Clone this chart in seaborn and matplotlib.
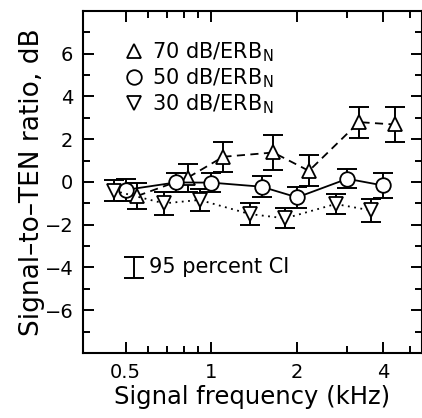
import numpy as np
import pandas as pd
import matplotlib
matplotlib.use('Agg')
import matplotlib.pyplot as plt
import seaborn as sns
from matplotlib.ticker import FixedLocator, NullFormatter, FuncFormatter
from matplotlib.lines import Line2D

# 데이터
freqs = [0.5, 0.75, 1, 1.5, 2, 3, 4]
levels = ['70 dB/ERB$_\\mathregular{N}$', '50 dB/ERB$_\\mathregular{N}$', '30 dB/ERB$_\\mathregular{N}$']
snr_70 = [-0.65, 0.2, 1.18, 1.38, 0.52, 2.8, 2.69]
ci_70 = [0.6, 0.65, 0.7, 0.8, 0.73, 0.72, 0.8]
snr_50 = [-0.37, -0.02, -0.03, -0.22, -0.72, 0.15, -0.16]
ci_50 = [0.5, 0.45, 0.43, 0.5, 0.5, 0.45, 0.6]
snr_30 = [-0.41, -1.0, -0.84, -1.5, -1.7, -1.03, -1.33]
ci_30 = [0.5, 0.55, 0.5, 0.5, 0.47, 0.46, 0.53]

sns.set_style('ticks')
plt.rcParams['font.family'] = ['DejaVu Sans']
plt.rcParams['mathtext.fontset'] = 'dejavusans'
plt.rcParams['text.color'] = 'black'
plt.rcParams['axes.labelcolor'] = 'black'

fig = plt.figure(figsize=(4.22, 4.18), dpi=100)
ax = fig.add_axes([0.1967, 0.1555, 0.8023, 0.8182])

# 시리즈별 표시 설정 (겹치지 않도록 주파수 축에서 살짝 이동)
series = [
    (snr_70, ci_70, 1.10, '^', (4.5, 3)),
    (snr_50, ci_50, 1.0, 'o', ''),
    (snr_30, ci_30, 1 / 1.10, 'v', (1, 2.5)),
]

rows = []
for name, (vals, ci, shift, mk, ds) in zip(levels, series):
    for f, v, c in zip(freqs, vals, ci):
        rows.append({'level': name, 'freq': f * shift, 'snr': v, 'ci': c})
df = pd.DataFrame(rows)

for name, (vals, ci, shift, mk, ds) in zip(levels, series):
    d = df[df['level'] == name]
    ax.errorbar(d['freq'], d['snr'], yerr=d['ci'], fmt='none', ecolor='black',
                elinewidth=1.4, capsize=7, capthick=1.4, zorder=2)

sns.lineplot(data=df, x='freq', y='snr', hue='level', style='level',
             palette=['black'] * 3, dashes=[s[4] for s in series],
             markers=[s[3] for s in series], markersize=10.5,
             markerfacecolor='white', markeredgecolor='black', markeredgewidth=1.3,
             linewidth=1.3, legend=False, ax=ax, zorder=3)

ax.set_xscale('log')
ax.set_xlim(0.354, 5.47)
ax.set_ylim(-8, 8)
ax.xaxis.set_major_locator(FixedLocator([0.5, 1, 2, 4]))
ax.xaxis.set_minor_locator(FixedLocator([0.6, 0.7, 0.8, 0.9, 3, 5]))
ax.xaxis.set_major_formatter(FuncFormatter(lambda v, p: f'{v:g}'))
ax.xaxis.set_minor_formatter(NullFormatter())
ax.set_yticks([-6, -4, -2, 0, 2, 4, 6])
ax.set_yticks([-7, -5, -3, -1, 1, 3, 5, 7], minor=True)
ax.set_yticklabels(['\u22126', '\u22124', '\u22122', '0', '2', '4', '6'])

ax.tick_params(which='both', direction='in', top=True, right=True, width=1.4,
               labelsize=14, colors='black', labelcolor='black', pad=7)
ax.tick_params(which='major', length=8)
ax.tick_params(which='minor', length=5)
for s in ax.spines.values():
    s.set_linewidth(1.5)
    s.set_color('black')

ax.set_xlabel('Signal frequency (kHz)', fontsize=17.5, labelpad=2, color='black')
ax.set_ylabel('Signal\u2013to\u2013TEN ratio, dB', fontsize=19, labelpad=0, color='black')

# 범례
handles = [Line2D([], [], linestyle='none', marker=s[3], markersize=10.5,
                  markerfacecolor='white', markeredgecolor='black', markeredgewidth=1.3)
           for s in series]
leg = ax.legend(handles, levels, loc='upper left', bbox_to_anchor=(0.065, 0.97), frameon=False,
                fontsize=15, handlelength=1.0, handletextpad=0.35, labelspacing=0.12)
for t in leg.get_texts():
    t.set_color('black')

# 95% 신뢰구간 표시
ax.errorbar([0.15], [0.25], yerr=[0.031], transform=ax.transAxes, fmt='none',
            ecolor='black', elinewidth=1.4, capsize=7, capthick=1.4)
ax.text(0.195, 0.25, '95 percent CI', transform=ax.transAxes, fontsize=15,
        va='center', ha='left', color='black')

fig.savefig('out.png', dpi=100)
